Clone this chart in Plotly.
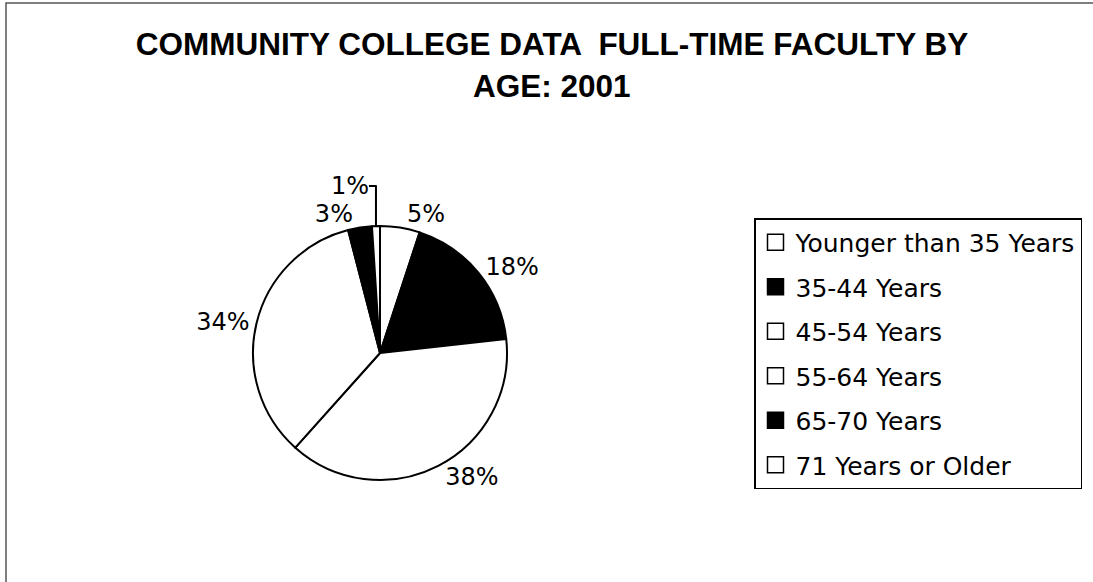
"""Community college full-time faculty by age, 2001 - pie chart."""

import plotly.graph_objects as go

age_groups = [
    "Younger than 35 Years",
    "35-44 Years",
    "45-54 Years",
    "55-64 Years",
    "65-70 Years",
    "71 Years or Older",
]
faculty_share = [5, 18, 38, 34, 3, 1]
slice_colors = ["white", "black", "white", "white", "black", "white"]

title_line1 = "COMMUNITY COLLEGE DATA \u00a0FULL-TIME FACULTY BY"
title_line2 = "AGE: 2001"

W, H = 1093, 582
pct_font = {"family": "DejaVu Sans", "size": 24, "color": "black"}
legend_font = {"family": "DejaVu Sans", "size": 25, "color": "black"}
title_font = {"family": "Liberation Sans, Arial", "size": 31.5, "color": "black"}

fig = go.Figure()
fig.add_trace(
    go.Pie(
        labels=age_groups,
        values=faculty_share,
        sort=False,
        direction="clockwise",
        rotation=0,
        marker={"colors": slice_colors, "line": {"color": "black", "width": 2}},
        texttemplate="%{percent:.0%}",
        textposition="outside",
        outsidetextfont=pct_font,
        domain={"x": [253 / W, 507 / W], "y": [1 - 480 / H, 1 - 226 / H]},
        showlegend=False,
        hoverinfo="label+percent",
    )
)

# legend entries as empty traces so each row can be spaced like the original
for i, (name, color) in enumerate(zip(age_groups, slice_colors)):
    fig.add_trace(
        go.Scatter(
            x=[None],
            y=[None],
            mode="markers",
            name=name,
            legendgroup=f"g{i}",
            marker={
                "symbol": "square",
                "size": 16,
                "color": color,
                "line": {"color": "black", "width": 1.5},
            },
        )
    )

fig.update_layout(
    width=W,
    height=H,
    margin={"l": 0, "r": 0, "t": 0, "b": 0},
    paper_bgcolor="white",
    plot_bgcolor="white",
    xaxis={"visible": False},
    yaxis={"visible": False},
    title={
        "text": f"<b>{title_line1}</b>",
        "font": title_font,
        "x": 552 / W,
        "xanchor": "center",
        "y": 1 - 43.5 / H,
        "yanchor": "middle",
    },
    annotations=[
        {
            "text": f"<b>{title_line2}</b>",
            "font": title_font,
            "xref": "paper",
            "yref": "paper",
            "x": 552 / W,
            "y": 1 - 86 / H,
            "xanchor": "center",
            "yanchor": "middle",
            "showarrow": False,
        }
    ],
    legend={
        "x": 754 / W,
        "y": 1 - 218 / H,
        "xanchor": "left",
        "yanchor": "top",
        "font": legend_font,
        "bordercolor": "black",
        "borderwidth": 1.5,
        "bgcolor": "white",
        "traceorder": "grouped",
        "tracegroupgap": 9,
    },
    shapes=[
        {
            "type": "rect",
            "xref": "paper",
            "yref": "paper",
            "x0": 6 / W,
            "x1": 1.02,
            "y0": -0.02,
            "y1": 1 - 3 / H,
            "line": {"color": "#555555", "width": 1.5},
        }
    ],
)

fig.write_html(
    "out.html",
    config={"displayModeBar": False},
    post_script="document.body.style.margin = '0';",
)
